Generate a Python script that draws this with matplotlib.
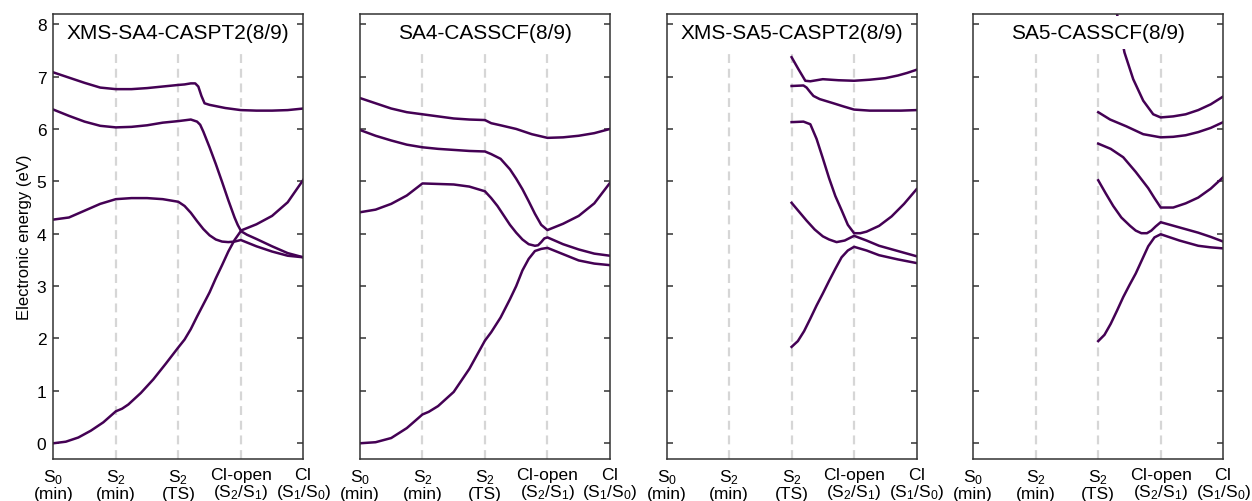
import matplotlib
matplotlib.use('Agg')
import matplotlib.pyplot as plt

plt.rcParams['font.family'] = ['Liberation Sans', 'DejaVu Sans']
plt.rcParams['mathtext.fontset'] = 'custom'
plt.rcParams['mathtext.rm'] = 'Liberation Sans'
plt.rcParams['mathtext.it'] = 'Liberation Sans:italic'

titles = ['XMS-SA4-CASPT2(8/9)', 'SA4-CASSCF(8/9)', 'XMS-SA5-CASPT2(8/9)', 'SA5-CASSCF(8/9)']
xlabels = ['S$_0$\n(min)', 'S$_2$\n(min)', 'S$_2$\n(TS)', 'CI-open\n(S$_2$/S$_1$)', 'CI\n(S$_1$/S$_0$)']

# --- XMS-SA4-CASPT2 ---
xms4_s0_x = [0, 0.2, 0.4, 0.6, 0.8, 1.0, 1.1, 1.2, 1.4, 1.6, 1.8, 2.0, 2.1, 2.2, 2.3, 2.4, 2.5, 2.6, 2.7, 2.8, 2.9, 3.0, 3.1, 3.25, 3.5, 3.75, 4.0]
xms4_s0_y = [0.0, 0.03, 0.11, 0.24, 0.40, 0.61, 0.66, 0.74, 0.96, 1.22, 1.52, 1.83, 1.98, 2.18, 2.42, 2.65, 2.88, 3.15, 3.40, 3.66, 3.88, 4.05, 3.98, 3.90, 3.76, 3.63, 3.55]
xms4_s1_x = [0, 0.25, 0.5, 0.75, 1.0, 1.25, 1.5, 1.75, 2.0, 2.1, 2.2, 2.3, 2.4, 2.5, 2.6, 2.7, 2.8, 2.9, 3.0, 3.25, 3.5, 3.75, 4.0]
xms4_s1_y = [4.27, 4.31, 4.44, 4.57, 4.66, 4.68, 4.68, 4.66, 4.61, 4.53, 4.40, 4.24, 4.09, 3.97, 3.89, 3.85, 3.84, 3.85, 3.88, 3.76, 3.66, 3.58, 3.55]
xms4_s2_x = [0, 0.25, 0.5, 0.75, 1.0, 1.25, 1.5, 1.75, 2.0, 2.2, 2.3, 2.35, 2.4, 2.5, 2.6, 2.7, 2.8, 2.9, 2.95, 3.0, 3.25, 3.5, 3.75, 4.0]
xms4_s2_y = [6.37, 6.25, 6.14, 6.06, 6.03, 6.04, 6.07, 6.12, 6.15, 6.18, 6.14, 6.08, 5.95, 5.65, 5.33, 4.99, 4.64, 4.31, 4.17, 4.06, 4.18, 4.34, 4.60, 5.03]
xms4_s3_x = [0, 0.25, 0.5, 0.75, 1.0, 1.25, 1.5, 1.75, 2.0, 2.1, 2.2, 2.27, 2.32, 2.37, 2.42, 2.5, 2.75, 3.0, 3.25, 3.5, 3.75, 4.0]
xms4_s3_y = [7.08, 6.98, 6.88, 6.79, 6.76, 6.76, 6.78, 6.81, 6.84, 6.85, 6.87, 6.87, 6.81, 6.63, 6.49, 6.46, 6.40, 6.36, 6.35, 6.35, 6.36, 6.39]

# --- SA4-CASSCF ---
cas4_s0_x = [0, 0.25, 0.5, 0.75, 1.0, 1.1, 1.25, 1.5, 1.75, 2.0, 2.1, 2.25, 2.4, 2.5, 2.6, 2.7, 2.8, 2.9, 3.0, 3.25, 3.5, 3.75, 4.0]
cas4_s0_y = [0.0, 0.02, 0.10, 0.29, 0.55, 0.60, 0.71, 0.98, 1.42, 1.96, 2.12, 2.40, 2.75, 3.0, 3.3, 3.52, 3.67, 3.71, 3.73, 3.61, 3.49, 3.43, 3.40]
cas4_s1_x = [0, 0.25, 0.5, 0.75, 1.0, 1.25, 1.5, 1.75, 2.0, 2.1, 2.2, 2.3, 2.4, 2.5, 2.6, 2.7, 2.8, 2.85, 2.9, 2.95, 3.0, 3.25, 3.5, 3.75, 4.0]
cas4_s1_y = [4.41, 4.46, 4.57, 4.73, 4.96, 4.95, 4.94, 4.90, 4.81, 4.68, 4.53, 4.35, 4.17, 4.02, 3.89, 3.80, 3.77, 3.78, 3.84, 3.91, 3.93, 3.80, 3.70, 3.62, 3.58]
cas4_s2_x = [0, 0.25, 0.5, 0.75, 1.0, 1.25, 1.5, 1.75, 2.0, 2.1, 2.25, 2.4, 2.5, 2.6, 2.7, 2.8, 2.9, 3.0, 3.25, 3.5, 3.75, 4.0]
cas4_s2_y = [5.98, 5.87, 5.78, 5.70, 5.65, 5.62, 5.60, 5.58, 5.57, 5.52, 5.43, 5.23, 5.05, 4.85, 4.62, 4.38, 4.17, 4.07, 4.19, 4.34, 4.58, 4.97]
cas4_s3_x = [0, 0.25, 0.5, 0.75, 1.0, 1.25, 1.5, 1.75, 2.0, 2.1, 2.25, 2.5, 2.75, 3.0, 3.25, 3.5, 3.75, 4.0]
cas4_s3_y = [6.59, 6.49, 6.39, 6.32, 6.28, 6.24, 6.20, 6.18, 6.17, 6.11, 6.07, 6.00, 5.90, 5.83, 5.84, 5.87, 5.92, 6.00]

# --- XMS-SA5-CASPT2 ---
xms5_s0_x = [2.0, 2.1, 2.2, 2.3, 2.4, 2.5, 2.6, 2.7, 2.8, 2.9, 3.0, 3.2, 3.4, 3.7, 4.0]
xms5_s0_y = [1.84, 1.95, 2.14, 2.38, 2.63, 2.86, 3.10, 3.33, 3.55, 3.68, 3.75, 3.68, 3.59, 3.51, 3.44]
xms5_s1_x = [2.0, 2.12, 2.24, 2.37, 2.5, 2.6, 2.72, 2.85, 3.0, 3.2, 3.4, 3.7, 4.0]
xms5_s1_y = [4.59, 4.42, 4.25, 4.08, 3.95, 3.89, 3.84, 3.87, 3.96, 3.87, 3.77, 3.67, 3.57]
xms5_s2_x = [2.0, 2.19, 2.3, 2.4, 2.5, 2.6, 2.7, 2.8, 2.9, 3.0, 3.1, 3.2, 3.4, 3.6, 3.8, 4.0]
xms5_s2_y = [6.13, 6.14, 6.09, 5.81, 5.44, 5.06, 4.72, 4.45, 4.17, 4.01, 4.01, 4.04, 4.15, 4.33, 4.57, 4.85]
xms5_s3_x = [2.0, 2.19, 2.24, 2.3, 2.35, 2.45, 2.67, 2.83, 3.0, 3.25, 3.5, 3.75, 4.0]
xms5_s3_y = [6.82, 6.83, 6.79, 6.70, 6.63, 6.57, 6.49, 6.43, 6.37, 6.35, 6.35, 6.35, 6.36]
xms5_s4_x = [2.0, 2.11, 2.22, 2.3, 2.5, 2.75, 3.0, 3.25, 3.5, 3.7, 3.85, 4.0]
xms5_s4_y = [7.37, 7.14, 6.92, 6.91, 6.95, 6.93, 6.92, 6.94, 6.97, 7.02, 7.07, 7.13]

# --- SA5-CASSCF ---
cas5_s0_x = [2.0, 2.1, 2.2, 2.3, 2.4, 2.5, 2.6, 2.7, 2.8, 2.9, 3.0, 3.3, 3.6, 3.8, 4.0]
cas5_s0_y = [1.95, 2.07, 2.28, 2.53, 2.79, 3.02, 3.24, 3.50, 3.76, 3.93, 3.99, 3.87, 3.77, 3.74, 3.72]
cas5_s1_x = [2.0, 2.12, 2.24, 2.37, 2.51, 2.6, 2.69, 2.78, 2.85, 2.92, 3.0, 3.3, 3.6, 3.8, 4.0]
cas5_s1_y = [5.02, 4.77, 4.53, 4.31, 4.15, 4.06, 4.01, 4.01, 4.06, 4.14, 4.22, 4.12, 4.02, 3.94, 3.85]
cas5_s2_x = [2.0, 2.2, 2.4, 2.6, 2.8, 2.9, 3.0, 3.2, 3.4, 3.6, 3.8, 4.0]
cas5_s2_y = [5.72, 5.62, 5.46, 5.18, 4.87, 4.68, 4.50, 4.50, 4.58, 4.69, 4.86, 5.08]
cas5_s3_x = [2.0, 2.19, 2.45, 2.72, 3.0, 3.2, 3.4, 3.6, 3.8, 4.0]
cas5_s3_y = [6.32, 6.18, 6.05, 5.90, 5.84, 5.85, 5.88, 5.94, 6.02, 6.13]
cas5_s4_x = [2.0, 2.15, 2.3, 2.42, 2.56, 2.72, 2.88, 3.0, 3.2, 3.4, 3.6, 3.8, 4.0]
cas5_s4_y = [10.2, 9.1, 8.2, 7.46, 6.95, 6.54, 6.28, 6.22, 6.24, 6.28, 6.36, 6.47, 6.62]

panels = [
    [(xms4_s0_x, xms4_s0_y), (xms4_s1_x, xms4_s1_y), (xms4_s2_x, xms4_s2_y), (xms4_s3_x, xms4_s3_y)],
    [(cas4_s0_x, cas4_s0_y), (cas4_s1_x, cas4_s1_y), (cas4_s2_x, cas4_s2_y), (cas4_s3_x, cas4_s3_y)],
    [(xms5_s0_x, xms5_s0_y), (xms5_s1_x, xms5_s1_y), (xms5_s2_x, xms5_s2_y), (xms5_s3_x, xms5_s3_y), (xms5_s4_x, xms5_s4_y)],
    [(cas5_s0_x, cas5_s0_y), (cas5_s1_x, cas5_s1_y), (cas5_s2_x, cas5_s2_y), (cas5_s3_x, cas5_s3_y), (cas5_s4_x, cas5_s4_y)],
]

line_color = '#440154'
fig, axes = plt.subplots(1, 4, figsize=(12.52, 5.02), dpi=100, sharey=True)
plt.subplots_adjust(left=0.0426, right=0.977, bottom=0.0837, top=0.9707, wspace=0.2267)

for i, ax in enumerate(axes):
    for xv in [1, 2, 3]:
        ax.plot([xv, xv], [-0.3, 7.5], color='#d6d6d6', lw=1.6, ls=(0, (4, 2.6)), zorder=1)
    for cx, cy in panels[i]:
        ax.plot(cx, cy, color=line_color, lw=1.8, solid_joinstyle='round', zorder=2)
    ax.set_xlim(0, 4)
    ax.set_ylim(-0.3, 8.2)
    ax.set_xticks([0, 1, 2, 3, 4])
    ax.set_xticklabels(xlabels, fontsize=12.5, linespacing=1.0)
    ax.set_yticks(range(0, 9))
    ax.tick_params(axis='x', length=0, pad=6)
    ax.tick_params(axis='y', direction='in', length=4, width=1.1, left=True, right=True,
                   labelsize=12.5, pad=5, color='#333333')
    for sp in ax.spines.values():
        sp.set_color('#333333')
        sp.set_linewidth(1.1)
    ax.text(0.5, 0.958, titles[i], transform=ax.transAxes, ha='center', va='center',
            fontsize=15, zorder=5,
            bbox=dict(boxstyle='square,pad=0.35', fc='white', ec='none'))
    if i > 0:
        ax.tick_params(axis='y', labelleft=False)

axes[0].set_ylabel('Electronic energy (eV)', fontsize=12, labelpad=3)

fig.savefig('out.png', dpi=100)
